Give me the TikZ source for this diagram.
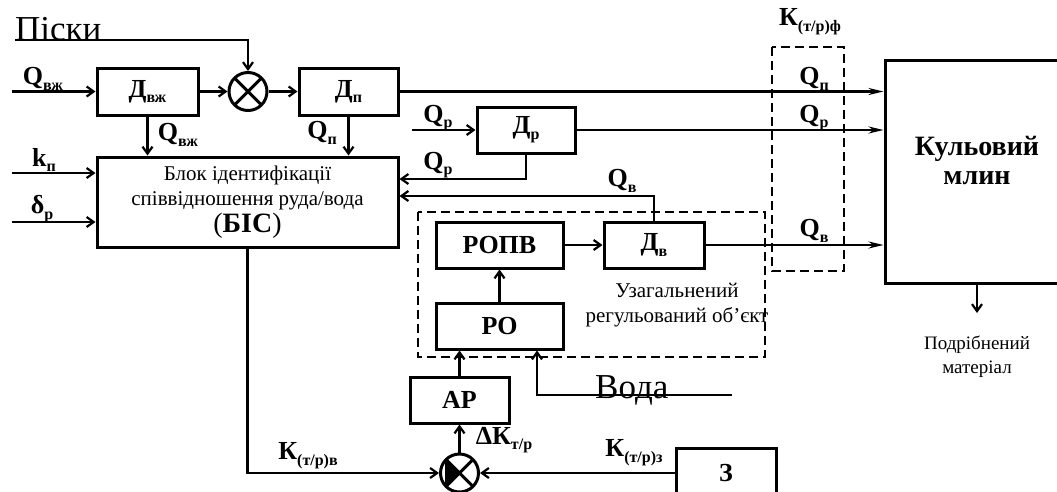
\documentclass[tikz,border=0pt]{standalone}
\usepackage{fontspec}
\setmainfont{Liberation Serif}
\usetikzlibrary{arrows.meta,positioning}

\newcommand{\lsub}[1]{\raisebox{-0.22em}{\fontsize{16}{16}\selectfont #1}}

\begin{document}
\begin{tikzpicture}[
        x=1pt, y=1pt,
        >={Straight Barb[length=7pt,width=10pt]},
        block/.style={draw, line width=3pt, font=\fontsize{26}{28}\selectfont\bfseries, inner sep=0pt},
        summer/.style={circle, draw, line width=3pt, minimum size=38pt, inner sep=0pt,
            path picture={\draw[line width=3pt]
                (path picture bounding box.north west) -- (path picture bounding box.south east)
                (path picture bounding box.north east) -- (path picture bounding box.south west);}},
        conn/.style={draw, line width=2.2pt},
        millarrow/.style={conn, -{Stealth[length=15pt,width=7pt]}},
        lbl/.style={font=\fontsize{26}{28}\selectfont\bfseries, inner sep=0pt},
        txt/.style={font=\fontsize{21}{25}\selectfont, align=center, inner sep=0pt},
        big/.style={font=\fontsize{35}{35}\selectfont, inner sep=0pt, anchor=base west},
        frame/.style={draw, line width=2pt, dash pattern=on 9pt off 5pt}
    ]
        \useasboundingbox (0,0) rectangle (1057,-491);

        % top row
        \node[block, minimum width=101pt, minimum height=47pt] (dvzh) at (147.5,-91.5) {Д\lsub{вж}};
        \node[summer, node distance=100.5pt] (s1) [right of=dvzh] {};
        \node[block, minimum width=99pt, minimum height=47pt, node distance=100.5pt] (dp) [right of=s1] {Д\lsub{п}};
        \node[block, minimum width=98pt, minimum height=46pt] (dr) at (526,-130) {Д\lsub{р}};
        \node[block, minimum width=184pt, minimum height=223pt] (mill) at (977,-171.5) {};
        \node[block, draw=none, font=\fontsize{28}{29}\selectfont\bfseries, align=center] (lmill) at (977,-160) {Кульовий\\млин};

        % identification block
        \node[draw, line width=3pt, minimum width=301pt, minimum height=90pt, txt] (bic) at (247.5,-202)
            {Блок ідентифікації\\співвідношення руда/вода\\[2pt]{\fontsize{28}{29}\selectfont(\textbf{БІС})}};

        % regulated object
        \node[block, minimum width=127pt, minimum height=46pt] (ropv) at (499.5,-245) {РОПВ};
        \node[block, minimum width=100pt, minimum height=46pt, node distance=154.5pt] (dv) [right of=ropv] {Д\lsub{в}};
        \node[block, minimum width=127pt, minimum height=46pt, node distance=81pt] (ro) [below of=ropv] {РО};
        \node[block, minimum width=99pt, minimum height=46pt] (ar) at (459.5,-400) {АР};
        \node[summer, node distance=73pt] (s2) [below of=ar] {};
        \fill (s2.center) -- (s2.north west) -- (s2.south west) -- cycle;
        \node[block, minimum width=100pt, minimum height=50pt] (zd) at (726,-473) {З};

        \draw[frame] (418,-212) rectangle (765,-357);
        \draw[frame] (772,-47) rectangle (844,-271);

        % free ends
        \node[big] (pisky) at (15,-40) {Піски};
        \node[big] (voda) at (595,-398) {Вода};
        \coordinate (qin) at (12,-91.5);
        \coordinate (kin) at (12,-173);
        \coordinate (din) at (12,-222);
        \coordinate (qrin) at (412,-130);
        \coordinate (qrb) at (526,-179);
        \coordinate (qvb) at (654,-196);
        \coordinate (vodain) at (732,-395);
        \coordinate (vodab) at (537,-395);
        \coordinate (kb) at (247.5,-473);
        \coordinate (mout) at (977,-313);

        % connections
        \path[conn,->] (pisky.base west) -- (pisky.base west -| s1) -- (s1);
        \path[conn,->] (qin) -- (dvzh);
        \path[conn,->] (dvzh) -- (s1);
        \path[conn,->] (s1) -- (dp);
        \path[millarrow] (dp.east) -- (dp.east -| mill.west);
        \path[conn,->] (dvzh.south) -- (dvzh.south |- bic.north);
        \path[conn,->] (dp.south) -- (dp.south |- bic.north);
        \path[conn,->] (kin) -- (kin -| bic.west);
        \path[conn,->] (din) -- (din -| bic.west);
        \path[conn,->] (qrin) -- (dr);
        \path[millarrow] (dr.east) -- (dr.east -| mill.west);
        \path[conn,->] (dr.south) -- (qrb) -- (qrb -| bic.east);
        \path[conn,->] (dv.north) -- (qvb) -- (qvb -| bic.east);
        \path[millarrow] (dv.east) -- (dv.east -| mill.west);
        \path[conn,->] (ropv) -- (dv);
        \path[conn,->] (ro) -- (ropv);
        \path[conn,->] (ar) -- (ar |- ro.south);
        \path[conn,->] (vodain) -- (vodab) -- (vodab |- ro.south);
        \path[conn,->] (bic.south) -- (kb) -- (s2);
        \path[conn,->] (s2) -- (ar);
        \path[conn,->] (zd) -- (s2);
        \path[conn,->] (mill.south) -- (mout);

        % labels
        \node[lbl] (lqvzh) at (43,-79) {Q\lsub{вж}};
        \node[lbl] (lqvzh2) at (178,-135) {Q\lsub{вж}};
        \node[lbl] (lqp) at (322,-133) {Q\lsub{п}};
        \node[lbl] (lkp) at (44,-160) {k\lsub{п}};
        \node[lbl] (ldr) at (42,-209) {δ\lsub{р}};
        \node[lbl] (lqr1) at (438,-118) {Q\lsub{р}};
        \node[lbl] (lqr2) at (438,-165) {Q\lsub{р}};
        \node[lbl] (lqv) at (622,-181) {Q\lsub{в}};
        \node[lbl] (lkf) at (810,-22) {К\lsub{(т/р)ф}};
        \node[lbl] (lqp2) at (814,-79) {Q\lsub{п}};
        \node[lbl] (lqr3) at (814,-118) {Q\lsub{р}};
        \node[lbl] (lqv2) at (814,-231) {Q\lsub{в}};
        \node[lbl] (lkv) at (308,-456) {К\lsub{(т/р)в}};
        \node[lbl] (ldk) at (504,-440) {ΔК\lsub{т/р}};
        \node[lbl] (lkz) at (634,-453) {К\lsub{(т/р)з}};
        \node[txt] (lobj) at (677,-305) {Узагальнений\\регульований об’єкт};
        \node[txt, font=\fontsize{19}{24}\selectfont] (lout) at (977,-357) {Подрібнений\\матеріал};
    \end{tikzpicture}
\end{document}
